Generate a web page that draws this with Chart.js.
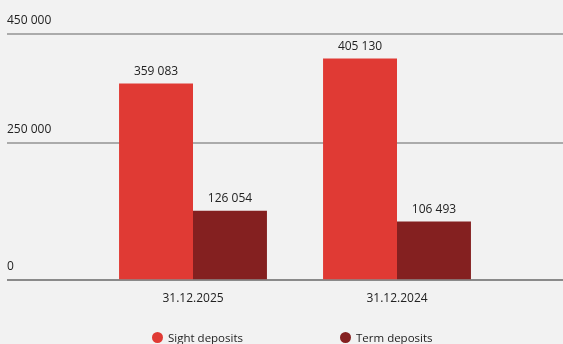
<!DOCTYPE html>
<html>
<head>
<meta charset="utf-8">
<script src="https://cdn.jsdelivr.net/npm/chart.js@4/dist/chart.umd.min.js"></script>
<style>
  html, body { margin: 0; padding: 0; background: #f2f2f2; }
  .wrap { position: relative; width: 563px; height: 344px; }
  .legend { position: absolute; left: 152px; top: 328px; display: flex; font: 11.5px "Open Sans", sans-serif; color: #222; }
  .legend .item { width: 188px; display: flex; align-items: center; height: 18px; }
  .legend .dot { width: 11px; height: 11px; border-radius: 50%; margin-right: 5px; }
</style>
</head>
<body>
<div class="wrap">
  <canvas id="myChart" width="563" height="344"></canvas>
  <div class="legend" id="legend"></div>
</div>
<script>
const dates = ["31.12.2025", "31.12.2024"];
const sightDeposits = [359083, 405130];
const termDeposits = [126054, 106493];
const yTicks = [0, 250000, 450000];

const seriesNames = ["Sight deposits", "Term deposits"];
const seriesColors = ["#e03a34", "#842020"];

// "405 130" style numbers
function fmt(v){
    return String(v).replace(/\B(?=(\d{3})+(?!\d))/g, " ");
}

// grid lines + y labels run across the whole width, not only the chart area
const gridLines = {
    id: "gridLines",
    beforeDatasetsDraw(chart){
        const ctx = chart.ctx;
        const y = chart.scales.y;
        ctx.save();
        ctx.font = "12px 'Open Sans', sans-serif";
        ctx.textAlign = "left";
        ctx.textBaseline = "middle";
        yTicks.forEach(v => {
            const py = Math.round(y.getPixelForValue(v));
            ctx.fillStyle = v === 0 ? "#8a8a8a" : "#ababab";
            ctx.fillRect(7, py - 1, chart.width - 7, 2);
            ctx.fillStyle = "#222";
            ctx.fillText(fmt(v), 7, py - 13);
        });
        ctx.restore();
    }
};

// value above each bar
const barValues = {
    id: "barValues",
    afterDatasetsDraw(chart){
        const ctx = chart.ctx;
        ctx.save();
        ctx.font = "12px 'Open Sans', sans-serif";
        ctx.fillStyle = "#222";
        ctx.textAlign = "center";
        ctx.textBaseline = "bottom";
        chart.data.datasets.forEach((ds, i) => {
            chart.getDatasetMeta(i).data.forEach((bar, j) => {
                ctx.fillText(fmt(ds.data[j]), bar.x, bar.y - 6);
            });
        });
        ctx.restore();
    }
};

let ctx = document.getElementById("myChart");
let myChart = new Chart(ctx, {
    type: "bar",
    data: {
        labels: dates,
        datasets: [{
            label: seriesNames[0],
            data: sightDeposits,
            backgroundColor: seriesColors[0]
        },{
            label: seriesNames[1],
            data: termDeposits,
            backgroundColor: seriesColors[1]
        }]
    },
    options: {
        responsive: false,
        animation: false,
        layout: { padding: { left: 91, right: 64, top: 34, bottom: 26 } },
        datasets: { bar: { categoryPercentage: 0.725, barPercentage: 1 } },
        plugins: {
            legend: { display: false },
            tooltip: { enabled: false }
        },
        scales: {
            x: {
                grid: { display: false, drawTicks: false },
                border: { display: false },
                ticks: { padding: 12, color: "#222", font: { family: "'Open Sans', sans-serif", size: 12 } }
            },
            y: {
                display: false,
                min: 0,
                max: 450000
            }
        }
    },
    plugins: [gridLines, barValues]
});

// legend
const legend = document.getElementById("legend");
seriesNames.forEach((name, i) => {
    const item = document.createElement("div");
    item.className = "item";
    item.innerHTML = `<span class="dot" style="background:${seriesColors[i]}"></span><span>${name}</span>`;
    legend.appendChild(item);
});
</script>
</body>
</html>
